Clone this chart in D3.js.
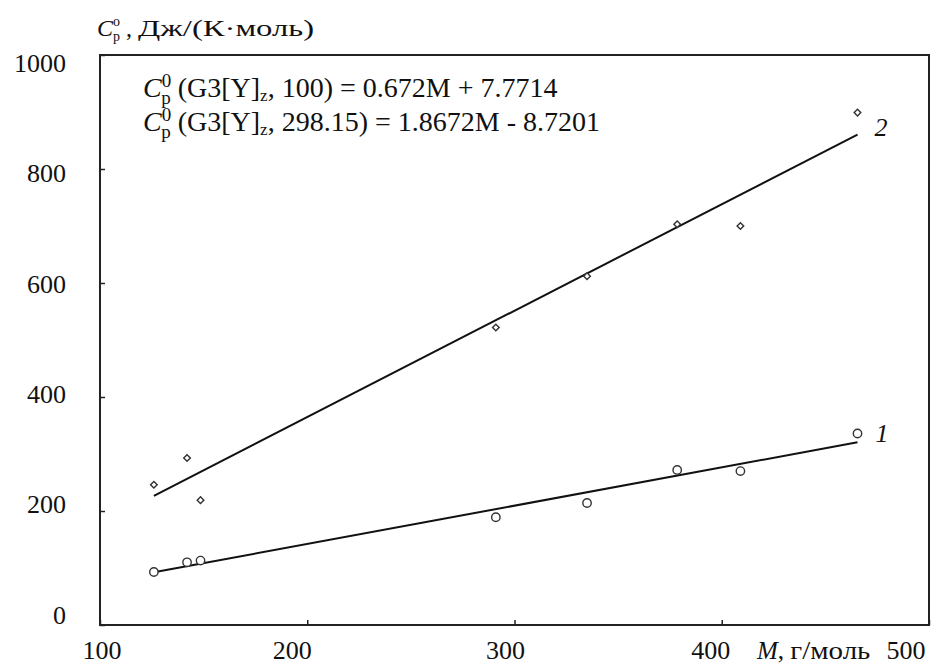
<!DOCTYPE html>
<html>
<head>
<meta charset="utf-8">
<script src="https://cdn.jsdelivr.net/npm/d3@7"></script>
<style>
  body { margin: 0; background: #fff; }
  svg text { font-family: "Liberation Serif", "DejaVu Serif", "Times New Roman", serif; }
</style>
</head>
<body>
<svg id="chart"></svg>
<script>
// molar mass, г/моль
var molarMass = [126, 142, 148.5, 291, 335, 378.5, 409, 465.5];
// Cp at 100 K (series 1, circles)
var cp100 = [93, 110, 113, 189, 214, 272, 270, 336];
// Cp at 298.15 K (series 2, diamonds)
var cp298 = [246, 293, 219, 522, 612, 703, 700, 899];
// fitted lines, end points
var fitX = [126, 465.5];
var fit100 = [92.4, 320.6];
var fit298 = [226.5, 860.5];

var xTicks = [100, 200, 300, 400, 500];
var yTicks = [0, 200, 400, 600, 800, 1000];

var svgWidth = 933, svgHeight = 665;
var serif = '"Liberation Serif", "DejaVu Serif", serif';
var svg = d3.select('#chart')
    .attr('width', svgWidth)
    .attr('height', svgHeight)
    .attr('font-family', serif);

var x = d3.scaleLinear().domain([100, 500]).range([100, 929]);
var y = d3.scaleLinear().domain([0, 1000]).range([625, 55]);
// tick labels sit a bit off the tick marks in the original
var yLab = d3.scaleLinear().domain([0, 1000]).range([615, 63]);
var xShift = {100: 2, 200: -15, 300: -9, 400: -11, 500: -23};

var ink = '#222';

// plot frame
svg.append('rect')
    .attr('x', x(100)).attr('y', y(1000))
    .attr('width', x(500) - x(100)).attr('height', y(0) - y(1000))
    .attr('fill', 'none').attr('stroke', ink).attr('stroke-width', 2);

// inward ticks
svg.append('g')
    .attr('transform', 'translate(0,' + y(0) + ')')
    .call(d3.axisBottom(x).tickValues(xTicks).tickSizeInner(-5).tickSizeOuter(0).tickFormat(''))
    .call(function(g) { g.select('.domain').remove(); })
    .selectAll('line').attr('stroke', ink).attr('stroke-width', 1.5);

svg.append('g')
    .attr('transform', 'translate(' + x(100) + ',0)')
    .call(d3.axisLeft(y).tickValues(yTicks).tickSizeInner(-5).tickSizeOuter(0).tickFormat(''))
    .call(function(g) { g.select('.domain').remove(); })
    .selectAll('line').attr('stroke', ink).attr('stroke-width', 1.5);

function txt(sel) {
    return sel.style('font-family', serif).attr('fill', '#111');
}

// tick labels
txt(svg.append('g').selectAll('text')
    .data(xTicks).enter().append('text'))
    .attr('x', function(d) { return x(d) + xShift[d]; })
    .attr('y', 659)
    .attr('text-anchor', 'middle')
    .style('font-size', '26px')
    .text(function(d) { return d; });

txt(svg.append('g').selectAll('text')
    .data(yTicks).enter().append('text'))
    .attr('x', 66)
    .attr('y', function(d) { return yLab(d); })
    .attr('dy', '0.34em')
    .attr('text-anchor', 'end')
    .style('font-size', '26px')
    .text(function(d) { return d; });

// axis titles
var yTitle = txt(svg.append('text'))
    .attr('x', 97).attr('y', 36)
    .style('font-size', '24px');
yTitle.append('tspan').style('font-style', 'italic').text('C');
yTitle.append('tspan').attr('dy', -10).style('font-size', '14px').text('o');
yTitle.append('tspan').attr('dx', -7).attr('dy', 15).style('font-size', '14px').text('p');
yTitle.append('tspan').attr('dy', -5).text(' , ');
yTitle.append('tspan')
    .attr('textLength', 176).attr('lengthAdjust', 'spacingAndGlyphs')
    .text('Дж/(К·моль)');

var xTitle = txt(svg.append('text'))
    .attr('x', 757).attr('y', 659)
    .style('font-size', '25px');
xTitle.append('tspan').style('font-style', 'italic').text('M');
xTitle.append('tspan').text(', ');
xTitle.append('tspan')
    .attr('textLength', 80).attr('lengthAdjust', 'spacingAndGlyphs')
    .text('г/моль');

// equations
function equation(yPos, inner, rhs) {
    var t = txt(svg.append('text'))
        .attr('x', 143).attr('y', yPos)
        .style('font-size', '28px');
    t.append('tspan').style('font-style', 'italic').text('C');
    t.append('tspan').attr('dy', -10).style('font-size', '19px').text('0');
    t.append('tspan').attr('dx', -10).attr('dy', 17).style('font-size', '19px').text('p');
    t.append('tspan').attr('dy', -7).text(' (G3[Y]');
    t.append('tspan').attr('dy', 4).style('font-size', '17px').text('z');
    t.append('tspan').attr('dy', -4).text(', ' + inner + ') = ' + rhs);
}
equation(97, '100', '0.672M + 7.7714');
equation(131, '298.15', '1.8672M - 8.7201');

// fit lines
var line = d3.line()
    .x(function(d) { return x(d[0]); })
    .y(function(d) { return y(d[1]); });

svg.append('path')
    .datum(d3.zip(fitX, fit100))
    .attr('fill', 'none').attr('stroke', '#111').attr('stroke-width', 2)
    .attr('d', line);
svg.append('path')
    .datum(d3.zip(fitX, fit298))
    .attr('fill', 'none').attr('stroke', '#111').attr('stroke-width', 2)
    .attr('d', line);

// points
svg.append('g').selectAll('circle')
    .data(d3.zip(molarMass, cp100)).enter().append('circle')
    .attr('cx', function(d) { return x(d[0]); })
    .attr('cy', function(d) { return y(d[1]); })
    .attr('r', 4.2)
    .attr('fill', '#fff').attr('stroke', '#333').attr('stroke-width', 1.4);

var diamond = d3.symbol().type(d3.symbolSquare).size(22);
svg.append('g').selectAll('path')
    .data(d3.zip(molarMass, cp298)).enter().append('path')
    .attr('d', diamond)
    .attr('transform', function(d) { return 'translate(' + x(d[0]) + ',' + y(d[1]) + ') rotate(45)'; })
    .attr('fill', '#fff').attr('stroke', '#333').attr('stroke-width', 1.4);

// series labels
txt(svg.append('text'))
    .attr('x', x(465.5) + 17).attr('y', y(cp298[7]) + 23)
    .style('font-size', '26px').style('font-style', 'italic')
    .text('2');
txt(svg.append('text'))
    .attr('x', x(465.5) + 18).attr('y', y(cp100[7]) + 9)
    .style('font-size', '26px').style('font-style', 'italic')
    .text('1');
</script>
</body>
</html>
